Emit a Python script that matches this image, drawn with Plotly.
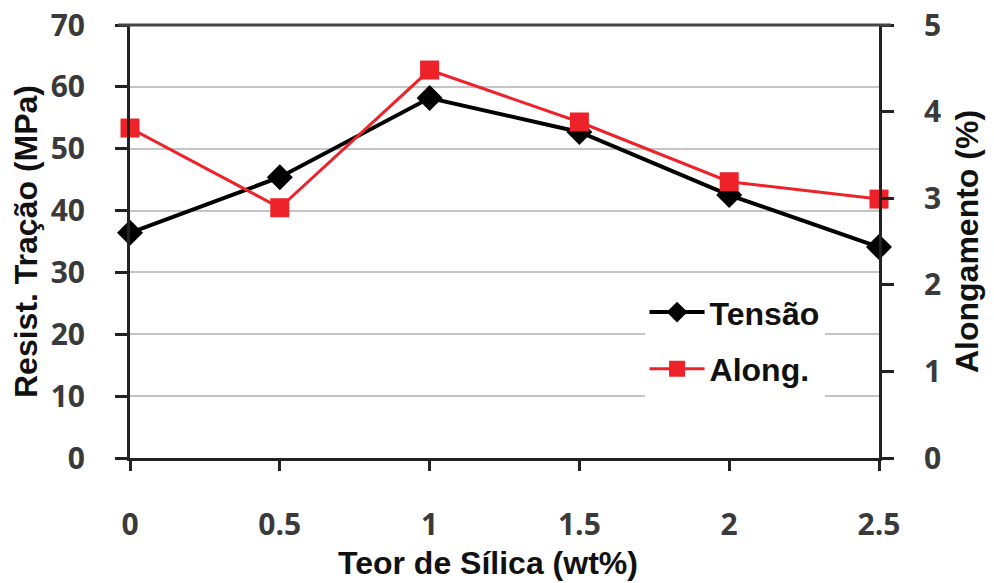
import plotly.graph_objects as go

silica = [0, 0.5, 1, 1.5, 2, 2.5]
tensao = [36.4, 45.4, 58.2, 52.7, 42.5, 34.1]
along = [3.81, 2.89, 4.48, 3.88, 3.19, 2.99]

x_ticks = [0, 0.5, 1, 1.5, 2, 2.5]
x_ticklabels = ["0", "0.5", "1", "1.5", "2", "2.5"]

TICKFONT = dict(family="Open Sans", size=30, color="#3a3a3a", weight="bold")
TITLEFONT = dict(family="Liberation Sans", size=32, color="#111111", weight="bold")

fig = go.Figure()
fig.add_trace(go.Scatter(
    x=silica, y=tensao, name="Tensão", mode="lines+markers", legendgroup="a",
    line=dict(color="black", width=4),
    marker=dict(symbol="diamond", size=20, color="black"),
    cliponaxis=False,
))
fig.add_trace(go.Scatter(
    x=silica, y=along, name="Along.", mode="lines+markers", yaxis="y2", legendgroup="b",
    line=dict(color="#ee2229", width=3),
    marker=dict(symbol="square", size=19, color="#ee2229"),
    cliponaxis=False,
))

fig.update_layout(
    width=994, height=583,
    margin=dict(l=130, r=115, t=25, b=125),
    paper_bgcolor="white", plot_bgcolor="white",
    showlegend=True,
    legend=dict(
        x=0.687, y=0.40, xanchor="left", yanchor="top",
        bgcolor="white", borderwidth=0,
        font=dict(family="Liberation Sans", size=32, color="#111111", weight="bold"),
        tracegroupgap=12, itemwidth=55,
    ),
    xaxis=dict(
        range=[0, 2.5], tickvals=x_ticks, ticktext=x_ticklabels,
        showline=True, linecolor="#222", linewidth=3,
        ticks="outside", ticklen=10, tickwidth=3, tickcolor="#222",
        showgrid=False, zeroline=False, automargin=False,
        tickfont=TICKFONT, ticklabelstandoff=28, ticklabeloverflow="allow",
    ),
    yaxis=dict(
        range=[0, 70], dtick=10,
        showline=True, linecolor="#222", linewidth=3,
        ticks="outside", ticklen=12, tickwidth=3, tickcolor="#222",
        showgrid=True, gridcolor="#c4c4c4", gridwidth=2, zeroline=False, automargin=False,
        tickfont=TICKFONT, ticklabelstandoff=24, ticklabeloverflow="allow",
        title=dict(text="Resist. Tração (MPa)", font=TITLEFONT, standoff=4),
    ),
    yaxis2=dict(
        range=[0, 5], dtick=1, overlaying="y", side="right",
        showline=True, linecolor="#222", linewidth=3,
        ticks="outside", ticklen=12, tickwidth=3, tickcolor="#222",
        showgrid=False, zeroline=False, automargin=False,
        tickfont=TICKFONT, ticklabelstandoff=24, ticklabeloverflow="allow",
        title=dict(text="Alongamento (%)", font=TITLEFONT, standoff=16),
    ),
    annotations=[dict(
        text="Teor de Sílica (wt%)", xref="paper", yref="paper",
        x=0.478, y=-0.243, xanchor="center", yanchor="middle",
        showarrow=False, font=TITLEFONT,
    )],
)

# top border line matching the 70 gridline
fig.add_shape(type="line", xref="paper", yref="paper", x0=-0.016, x1=1.016, y0=1, y1=1,
              line=dict(color="#444", width=3))

fig.write_html("out.html", config={"displayModeBar": False},
               post_script="document.body.style.margin='0';")
